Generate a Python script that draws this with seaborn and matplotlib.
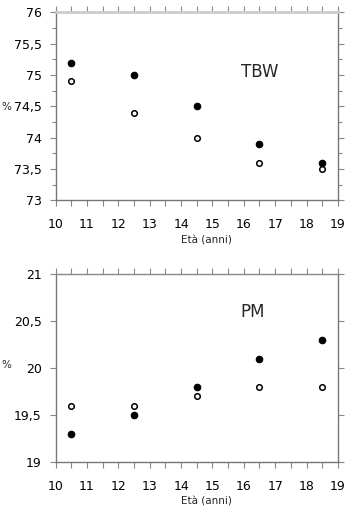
import pandas as pd
import numpy as np
import seaborn as sns
import matplotlib.pyplot as plt
from matplotlib.ticker import MultipleLocator, FuncFormatter

# Ages (x) and the two series per panel
eta = [10.5, 12.5, 14.5, 16.5, 18.5]
tbw_pieni = [75.2, 75.0, 74.5, 73.9, 73.6]
tbw_vuoti = [74.9, 74.4, 74.0, 73.6, 73.5]
pm_pieni = [19.3, 19.5, 19.8, 20.1, 20.3]
pm_vuoti = [19.6, 19.6, 19.7, 19.8, 19.8]

sns.set_style("ticks")
plt.rcParams['font.family'] = ['DejaVu Sans']

fig = plt.figure(figsize=(3.61, 5.22), dpi=100)
ax1 = fig.add_axes([0.154, 0.6163, 0.782, 0.3598])
ax2 = fig.add_axes([0.154, 0.115, 0.782, 0.3596])

# comma decimal separator
virgola = FuncFormatter(lambda v, p: ('%g' % v).replace('.', ','))


def pannello(ax, pieni, vuoti, ylim, minor_y, titolo, ty, top_col, top_lw):
    df = pd.DataFrame({'eta': eta, 'pieni': pieni, 'vuoti': vuoti})
    sns.scatterplot(data=df, x='eta', y='pieni', ax=ax, color='black',
                    edgecolor='black', s=22, linewidth=0.8, zorder=3)
    sns.scatterplot(data=df, x='eta', y='vuoti', ax=ax, color='white',
                    edgecolor='black', s=16, linewidth=1.1, zorder=3)
    ax.set_xlim(10, 19)
    ax.set_ylim(*ylim)
    ax.xaxis.set_major_locator(MultipleLocator(1))
    ax.xaxis.set_minor_locator(MultipleLocator(0.5))
    ax.yaxis.set_major_locator(MultipleLocator(0.5))
    if minor_y:
        ax.yaxis.set_minor_locator(MultipleLocator(0.25))
    ax.yaxis.set_major_formatter(virgola)
    ax.tick_params(axis='both', which='both', direction='out', color='#888888',
                   top=True, right=True, labelsize=9, labelcolor='black')
    ax.tick_params(axis='x', which='both', length=4, width=0.8, pad=9)
    ax.tick_params(axis='y', which='major', length=4, width=0.8, pad=6)
    ax.tick_params(axis='y', which='minor', length=3, width=0.8)
    for s in ['left', 'bottom', 'right']:
        ax.spines[s].set_color('#777777')
        ax.spines[s].set_linewidth(1.0)
    ax.spines['top'].set_color(top_col)
    ax.spines['top'].set_linewidth(top_lw)
    ax.set_xlabel('Età (anni)', fontsize=7.5)
    ax.xaxis.set_label_coords(0.536, -0.185)
    ax.set_ylabel('%', fontsize=7.5, rotation=0)
    ax.yaxis.set_label_coords(-0.175, ty)
    ax.text(15.9, titolo[1], titolo[0], fontsize=12, va='center', ha='left')


pannello(ax1, tbw_pieni, tbw_vuoti, (73, 76), True, ('TBW', 75.05), 0.47, '#cccccc', 2.0)
pannello(ax2, pm_pieni, pm_vuoti, (19, 21), False, ('PM', 20.6), 0.49, '#888888', 1.0)

plt.savefig('out.png', dpi=100)
